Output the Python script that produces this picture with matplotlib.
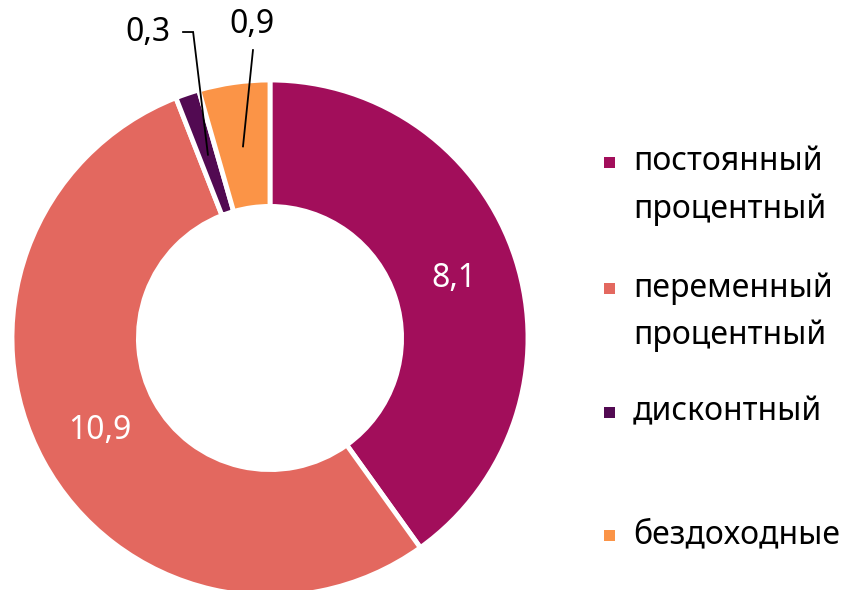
import matplotlib
matplotlib.use("Agg")
import matplotlib.pyplot as plt
import numpy as np

plt.rcParams['font.family'] = ['Noto Sans', 'DejaVu Sans']

# data
categories = ["постоянный\nпроцентный", "переменный\nпроцентный", "дисконтный", "бездоходные"]
values = [8.1, 10.9, 0.3, 0.9]
value_labels = ["8,1", "10,9", "0,3", "0,9"]
colors = ["#A20E5B", "#E3685F", "#520A52", "#FB9447"]

W, H = 849, 590
fig = plt.figure(figsize=(W / 100, H / 100), dpi=100)

# pie axes: center (270, 338) px, radius 258 px
R = 258
cx, cy = 270, 338
ax = fig.add_axes([(cx - R) / W, (H - cy - R) / H, 2 * R / W, 2 * R / H])
wedges, _ = ax.pie(values, colors=colors, startangle=90, counterclock=False,
                   radius=1, wedgeprops=dict(width=0.49, edgecolor="white", linewidth=3.5))
ax.set_xlim(-1, 1)
ax.set_ylim(-1, 1)
ax.set_aspect("equal")
ax.axis("off")

# value labels
for i, w in enumerate(wedges):
    mid = np.deg2rad((w.theta1 + w.theta2) / 2)
    px, py = 0.75 * np.cos(mid), 0.75 * np.sin(mid)
    if i < 2:
        ax.text(px, py, value_labels[i], color="white", fontsize=23,
                ha="center", va="center")
    elif i == 2:
        ax.text(-0.473, 1.185, value_labels[i], fontsize=23, ha="center", va="center")
        ax.plot([-0.337, -0.298, px], [1.186, 1.186, py], color="black",
                lw=1.3, clip_on=False, solid_joinstyle="miter")
    else:
        ax.text(-0.07, 1.215, value_labels[i], fontsize=23, ha="center", va="center")
        ax.plot([-0.066, px], [1.116, py], color="black", lw=1.3, clip_on=False)

# legend (manual)
first_line_y = [162, 288, 412, 535]
line_gap = 48
for lab, col, y in zip(categories, colors, first_line_y):
    fig.patches.append(plt.Rectangle((604 / W, 1 - (y + 6) / H), 11 / W, 11 / H,
                                     transform=fig.transFigure, facecolor=col,
                                     edgecolor="none"))
    for k, line in enumerate(lab.split("\n")):
        fig.text(633 / W, 1 - (y + k * line_gap) / H, line, fontsize=23,
                 ha="left", va="center")

fig.savefig("out.png", dpi=100)
